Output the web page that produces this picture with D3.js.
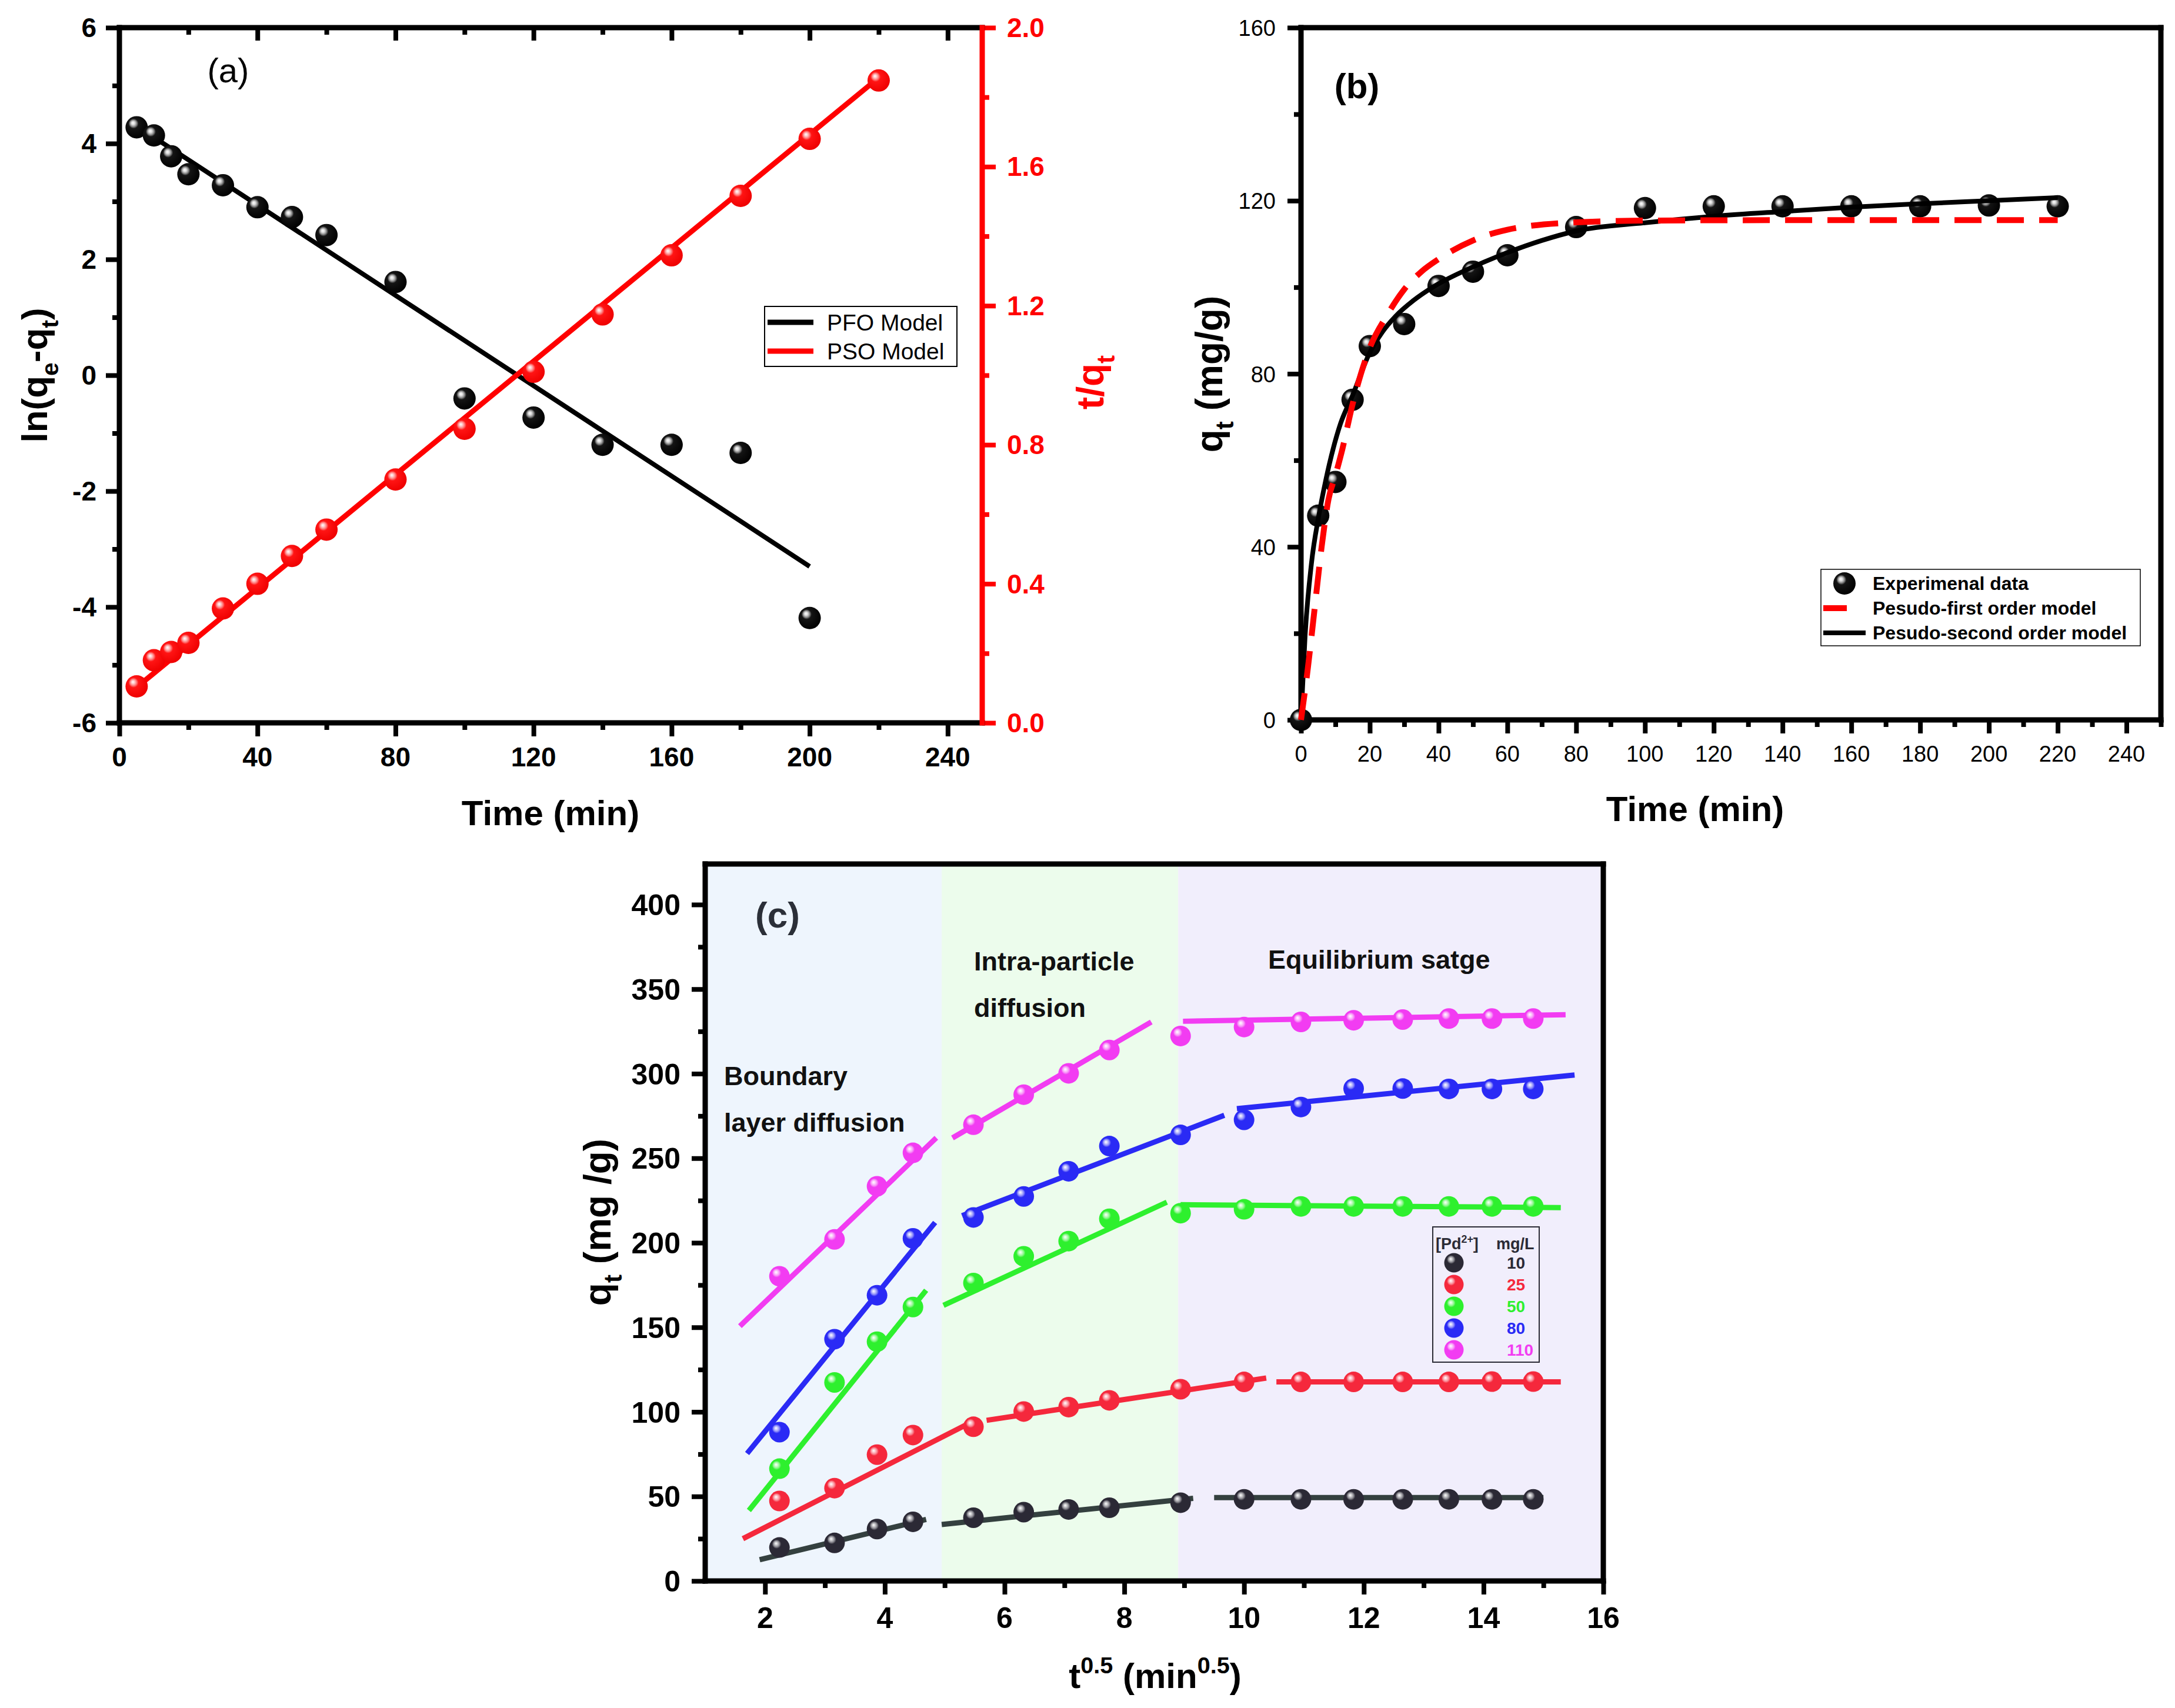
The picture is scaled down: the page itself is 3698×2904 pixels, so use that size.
<!DOCTYPE html>
<html>
<head>
<meta charset="utf-8">
<script src="https://cdn.jsdelivr.net/npm/d3@7"></script>
<style>
  html, body { margin: 0; padding: 0; background: #fff; }
  svg { display: block; font-family: "Liberation Sans", Arial, Helvetica, sans-serif; }
</style>
</head>
<body>
<svg id="svg" width="3698" height="2904"></svg>
<script>
// ---- panel (a): linearised kinetic plots ----
const timeA = [5, 10, 15, 20, 30, 40, 50, 60, 80, 100, 120, 140, 160, 180, 200];
const lnQeQt = [4.28, 4.14, 3.78, 3.47, 3.28, 2.9, 2.73, 2.42, 1.61, -0.4, -0.73, -1.2, -1.2, -1.34, -4.19];
const timeA2 = [5, 10, 15, 20, 30, 40, 50, 60, 80, 100, 120, 140, 160, 180, 200, 220];
const tOverQt = [0.105, 0.18, 0.204, 0.23, 0.329, 0.4, 0.48, 0.556, 0.7, 0.846, 1.01, 1.175, 1.345, 1.516, 1.68, 1.848];
const pfoFitA = [[12, 4.03], [200, -3.3]];
const psoFitA = [[4, 0.094], [220, 1.856]];
const legendA = ['PFO Model', 'PSO Model'];

// ---- panel (b): non-linear fits ----
const timeB = [0, 5, 10, 15, 20, 30, 40, 50, 60, 80, 100, 120, 140, 160, 180, 200, 220];
const qtB = [0, 47.2, 55, 74, 86.4, 91.5, 100.3, 103.6, 107.4, 113.9, 118.3, 118.7, 118.7, 118.7, 118.7, 118.9, 118.7];
const pfoTimeB = [0, 2, 4, 6, 8, 10, 12, 15, 20, 25, 30, 35, 40, 50, 60, 80, 100, 140, 220];
const pfoQtB = [0, 12, 26, 40, 51, 56.5, 62.5, 73, 86, 93.5, 99.5, 103.6, 106.5, 110.8, 113.3, 115, 115.4, 115.5, 115.5];
const psoTimeB = [0, 1.2, 3, 5.2, 7.2, 11.5, 15, 19.7, 23.6, 27.5, 32.8, 38.7, 50, 60, 70, 80, 100, 120, 140, 160, 180, 200, 220];
const psoQtB = [0, 19.6, 35.9, 47.3, 55.4, 68.5, 75, 84.4, 89.6, 93.3, 97, 100.2, 104.7, 108, 110.8, 113, 114.9, 116.4, 117.5, 118.5, 119.3, 120, 120.7];
const legendB = ['Experimenal data', 'Pesudo-first order model', 'Pesudo-second order model'];

// ---- panel (c): intra-particle diffusion ----
const sqrtTime = [2.24, 3.16, 3.87, 4.47, 5.48, 6.32, 7.07, 7.75, 8.94, 10, 10.95, 11.83, 12.65, 13.42, 14.14, 14.83];
const concLabels = ['10', '25', '50', '80', '110'];
const qc10 = [19.8, 22.5, 30.7, 35, 37.4, 40.7, 42.3, 43.3, 46.3, 48.3, 48.3, 48.3, 48.3, 48.3, 48.3, 48.3];
const qc25 = [47.3, 54.9, 74.7, 86.3, 91.2, 100.2, 102.8, 106.8, 113.4, 117.7, 117.7, 117.7, 117.7, 117.7, 117.9, 117.9];
const qc50 = [66.4, 117.4, 141.5, 162, 176.2, 192, 201, 214.2, 217.5, 219.8, 221.5, 221.5, 221.5, 221.5, 221.5, 221.5];
const qc80 = [88, 143, 169, 202.6, 215, 227.4, 242.3, 257.2, 263.8, 272.7, 280.3, 291.2, 291.2, 291, 291, 291];
const qc110 = [180.2, 202, 233.4, 253.2, 269.8, 287.6, 300.2, 314, 322.3, 327.6, 330.6, 331.6, 332, 332.6, 332.6, 332.6];
const fit10 = [[[1.91, 12.6], [4.69, 36.4]], [[4.95, 33.4], [9.15, 48.9]], [[9.5, 49.3], [15.0, 49.3]]];
const fit25 = [[[1.63, 25], [5.45, 94]], [[5.7, 95], [10.37, 120]], [[10.54, 117.7], [15.29, 117.7]]];
const fit50 = [[[1.73, 41.7], [4.69, 171.9]], [[4.98, 163], [8.71, 224]], [[8.94, 222.5], [15.29, 220.8]]];
const fit80 = [[[1.7, 75.4], [4.84, 212]], [[5.29, 216], [9.67, 275.4]], [[9.88, 279.3], [15.52, 299.2]]];
const fit110 = [[[1.58, 150.7], [4.86, 262.1]], [[5.13, 262], [8.45, 330.6]], [[8.98, 331], [15.37, 334.9]]];
const stageEdges = [1, 4.95, 8.9, 16];

const cSeries = [qc10, qc25, qc50, qc80, qc110];
const cFits = [fit10, fit25, fit50, fit80, fit110];
const cColors = ['#2b2935', '#f5283c', '#2ef02e', '#2a2af5', '#f23cf2'];
const cLineColors = ['#34403f', '#f5283c', '#2ef02e', '#2a2af5', '#f23cf2'];
const stageFill = ['#eef5fd', '#ecfcec', '#f1eefc'];

const svg = d3.select('#svg');
const defs = svg.append('defs');

function sphere(id, stops) {
  const g = defs.append('radialGradient').attr('id', id)
    .attr('cx', 0.42).attr('cy', 0.4).attr('r', 0.62).attr('fx', 0.33).attr('fy', 0.3);
  stops.forEach(s => g.append('stop').attr('offset', s[0]).attr('stop-color', s[1]));
}
sphere('ballBlack', [[0, '#ffffff'], [0.12, '#dcdcdc'], [0.24, '#8a8a8a'], [0.36, '#141414'], [1, '#000']]);
sphere('ballRed', [[0, '#ffffff'], [0.12, '#ffc8c8'], [0.24, '#ff7a7a'], [0.36, '#ff1414'], [1, '#ee0000']]);
cColors.forEach((c, i) => {
  const tint = d3.interpolateRgb(c, '#fff');
  sphere('ballC' + i, [[0, '#ffffff'], [0.12, tint(0.75)], [0.24, tint(0.45)], [0.36, c], [1, c]]);
});

const axisGen = { bottom: d3.axisBottom, top: d3.axisTop, left: d3.axisLeft, right: d3.axisRight };

function addTicks(pos, tx, ty, scale, values, len, color) {
  const ax = axisGen[pos](scale).tickValues(values).tickSize(len).tickSizeOuter(0).tickFormat('');
  const g = svg.append('g').attr('transform', `translate(${tx},${ty})`).call(ax);
  g.select('.domain').remove();
  g.selectAll('text').remove();
  g.selectAll('line').attr('stroke', color || '#000').attr('stroke-width', 8);
}

function addLabels(values, fmt, xf, yf, anchor, size, weight, color) {
  svg.append('g').selectAll('text').data(values).join('text')
    .attr('x', xf).attr('y', yf)
    .attr('text-anchor', anchor)
    .attr('font-size', size).attr('font-weight', weight)
    .attr('fill', color || '#000')
    .text(fmt);
}

function rich(t, parts, size) {
  let cur = 0;
  parts.forEach(p => {
    const target = p.sub ? size * 0.3 : p.sup ? -size * 0.42 : 0;
    t.append('tspan').attr('dy', target - cur)
      .attr('font-size', (p.sub || p.sup) ? size * 0.66 : size).text(p.t);
    cur = target;
  });
}

function title(x, y, parts, size, color, rotate) {
  const t = svg.append('text').attr('x', x).attr('y', y)
    .attr('text-anchor', 'middle').attr('font-weight', 'bold')
    .attr('font-size', size).attr('fill', color || '#000');
  if (rotate) t.attr('transform', `rotate(-90,${x},${y})`);
  rich(t, parts, size);
}

function frameLine(x1, y1, x2, y2, color) {
  svg.append('line').attr('x1', x1).attr('y1', y1).attr('x2', x2).attr('y2', y2)
    .attr('stroke', color || '#000').attr('stroke-width', 9).attr('stroke-linecap', 'square');
}

// ===================== panel (a) =====================
const aX = d3.scaleLinear().domain([0, 250]).range([203, 1670]);
const aY = d3.scaleLinear().domain([-6, 6]).range([1229, 47]);
const aY2 = d3.scaleLinear().domain([0, 2]).range([1229, 47]);

addTicks('bottom', 0, 1229, aX, d3.range(0, 241, 40), 23);
addTicks('bottom', 0, 1229, aX, d3.range(20, 230, 40), 12);
addTicks('bottom', 0, 47, aX, d3.range(40, 241, 40), 22);
addTicks('bottom', 0, 47, aX, d3.range(20, 230, 40), 12);
addTicks('left', 203, 0, aY, d3.range(-6, 7, 2), 23);
addTicks('left', 203, 0, aY, d3.range(-5, 6, 2), 12);
addTicks('right', 1670, 0, aY2, d3.range(0, 2.01, 0.4), 23, '#ff0000');
addTicks('right', 1670, 0, aY2, d3.range(0.2, 1.9, 0.4), 12, '#ff0000');
frameLine(203, 47, 1670, 47);
frameLine(203, 1229, 1670, 1229);
frameLine(203, 47, 203, 1229);
frameLine(1670, 47, 1670, 1229, '#ff0000');

addLabels(d3.range(0, 241, 40), d => d, d => aX(d), 1303, 'middle', 46, 'bold');
addLabels(d3.range(-6, 7, 2), d => d, 164, d => aY(d) + 16, 'end', 46, 'bold');
addLabels(d3.range(0, 2.01, 0.4), d => d3.format('.1f')(d), 1712, d => aY2(d) + 16, 'start', 46, 'bold', '#ff0000');

const lineA = d3.line().x(d => aX(d[0])).y(d => aY(d[1]));
const lineA2 = d3.line().x(d => aX(d[0])).y(d => aY2(d[1]));
svg.append('path').attr('d', lineA(pfoFitA)).attr('fill', 'none').attr('stroke', '#000').attr('stroke-width', 8);
svg.append('path').attr('d', lineA2(psoFitA)).attr('fill', 'none').attr('stroke', '#ff0000').attr('stroke-width', 9);

svg.append('g').selectAll('circle').data(timeA).join('circle')
  .attr('cx', d => aX(d)).attr('cy', (d, i) => aY(lnQeQt[i])).attr('r', 19)
  .attr('fill', 'url(#ballBlack)');
svg.append('g').selectAll('circle').data(timeA2).join('circle')
  .attr('cx', d => aX(d)).attr('cy', (d, i) => aY2(tOverQt[i])).attr('r', 19)
  .attr('fill', 'url(#ballRed)');

svg.append('text').attr('x', 388).attr('y', 140).attr('text-anchor', 'middle')
  .attr('font-size', 58).text('(a)');

// legend (a)
svg.append('rect').attr('x', 1300).attr('y', 521).attr('width', 327).attr('height', 102)
  .attr('fill', '#fff').attr('stroke', '#000').attr('stroke-width', 2);
legendA.forEach((name, i) => {
  const y = 548 + i * 49;
  svg.append('line').attr('x1', 1305).attr('x2', 1383).attr('y1', y).attr('y2', y)
    .attr('stroke', i === 0 ? '#000' : '#ff0000').attr('stroke-width', 9);
  svg.append('text').attr('x', 1406).attr('y', y + 14).attr('font-size', 39).text(name);
});

title(936, 1403, [{ t: 'Time (min)' }], 60);
title(80, 638, [{ t: 'ln(q' }, { t: 'e', sub: true }, { t: '-q' }, { t: 't', sub: true }, { t: ')' }], 62, '#000', true);
title(1876, 650, [{ t: 't/q' }, { t: 't', sub: true }], 64, '#ff0000', true);

// ===================== panel (b) =====================
const bX = d3.scaleLinear().domain([0, 250]).range([2212, 3674]);
const bY = d3.scaleLinear().domain([0, 160]).range([1224, 47]);

addTicks('bottom', 0, 1224, bX, d3.range(0, 241, 20), 23);
addTicks('bottom', 0, 1224, bX, d3.range(10, 251, 20), 12);
addTicks('left', 2212, 0, bY, d3.range(0, 161, 40), 23);
addTicks('left', 2212, 0, bY, d3.range(20, 150, 40), 12);
frameLine(2212, 47, 3674, 47);
frameLine(2212, 1224, 3674, 1224);
frameLine(2212, 47, 2212, 1224);
frameLine(3674, 47, 3674, 1224);

addLabels(d3.range(0, 241, 20), d => d, d => bX(d), 1295, 'middle', 38, 'normal');
addLabels(d3.range(0, 161, 40), d => d, 2169, d => bY(d) + 14, 'end', 38, 'normal');

svg.append('g').selectAll('circle').data(timeB).join('circle')
  .attr('cx', d => bX(d)).attr('cy', (d, i) => bY(qtB[i])).attr('r', 19)
  .attr('fill', 'url(#ballBlack)');

const lineB = d3.line().x(d => bX(d[0])).y(d => bY(d[1])).curve(d3.curveMonotoneX);
svg.append('path').attr('d', lineB(psoTimeB.map((t, i) => [t, psoQtB[i]])))
  .attr('fill', 'none').attr('stroke', '#000').attr('stroke-width', 8);
svg.append('path').attr('d', lineB(pfoTimeB.map((t, i) => [t, pfoQtB[i]])))
  .attr('fill', 'none').attr('stroke', '#ff0000').attr('stroke-width', 10)
  .attr('stroke-dasharray', '46,26');

svg.append('text').attr('x', 2307).attr('y', 167).attr('text-anchor', 'middle')
  .attr('font-size', 60).attr('font-weight', 'bold').text('(b)');

// legend (b)
svg.append('rect').attr('x', 3096).attr('y', 968).attr('width', 543).attr('height', 130)
  .attr('fill', '#fff').attr('stroke', '#000').attr('stroke-width', 1.5);
legendB.forEach((name, i) => {
  const y = 992 + i * 42;
  if (i === 0) {
    svg.append('circle').attr('cx', 3136).attr('cy', y).attr('r', 19).attr('fill', 'url(#ballBlack)');
  } else if (i === 1) {
    svg.append('line').attr('x1', 3100).attr('x2', 3140).attr('y1', y).attr('y2', y)
      .attr('stroke', '#ff0000').attr('stroke-width', 10);
  } else {
    svg.append('line').attr('x1', 3100).attr('x2', 3172).attr('y1', y).attr('y2', y)
      .attr('stroke', '#000').attr('stroke-width', 8);
  }
  svg.append('text').attr('x', 3184).attr('y', y + 11).attr('font-size', 32)
    .attr('font-weight', 'bold').text(name);
});

title(2882, 1396, [{ t: 'Time (min)' }], 60);
title(2078, 636, [{ t: 'q' }, { t: 't', sub: true }, { t: ' (mg/g)' }], 64, '#000', true);

// ===================== panel (c) =====================
const cX = d3.scaleLinear().domain([1, 16]).range([1199, 2726]);
const cY = d3.scaleLinear().domain([0, 424]).range([2688, 1469]);

svg.append('g').selectAll('rect').data(stageFill).join('rect')
  .attr('x', (d, i) => cX(stageEdges[i]))
  .attr('width', (d, i) => cX(stageEdges[i + 1]) - cX(stageEdges[i]))
  .attr('y', cY.range()[1]).attr('height', cY.range()[0] - cY.range()[1])
  .attr('fill', d => d);

addTicks('bottom', 0, 2688, cX, d3.range(2, 17, 2), 23);
addTicks('bottom', 0, 2688, cX, d3.range(3, 16, 2), 12);
addTicks('left', 1199, 0, cY, d3.range(0, 401, 50), 23);
addTicks('left', 1199, 0, cY, d3.range(25, 400, 50), 12);
frameLine(1199, 1469, 2726, 1469);
frameLine(1199, 2688, 2726, 2688);
frameLine(1199, 1469, 1199, 2688);
frameLine(2726, 1469, 2726, 2688);

addLabels(d3.range(2, 17, 2), d => d, d => cX(d), 2768, 'middle', 50, 'bold');
addLabels(d3.range(0, 401, 50), d => d, 1157, d => cY(d) + 18, 'end', 50, 'bold');

const lineC = d3.line().x(d => cX(d[0])).y(d => cY(d[1]));
cFits.forEach((segs, i) => {
  svg.append('g').selectAll('path').data(segs).join('path')
    .attr('d', lineC).attr('fill', 'none')
    .attr('stroke', cLineColors[i]).attr('stroke-width', 9);
});
cSeries.forEach((vals, i) => {
  svg.append('g').selectAll('circle').data(vals).join('circle')
    .attr('cx', (d, j) => cX(sqrtTime[j])).attr('cy', d => cY(d)).attr('r', 17.5)
    .attr('fill', `url(#ballC${i})`);
});

svg.append('text').attr('x', 1322).attr('y', 1577).attr('text-anchor', 'middle')
  .attr('font-size', 62).attr('font-weight', 'bold').attr('fill', '#2b2f38').text('(c)');

const stageText = [
  ['Boundary', 1231, 1845], ['layer diffusion', 1231, 1924],
  ['Intra-particle', 1656, 1650], ['diffusion', 1656, 1729],
  ['Equilibrium satge', 2156, 1647]
];
svg.append('g').selectAll('text').data(stageText).join('text')
  .attr('x', d => d[1]).attr('y', d => d[2])
  .attr('font-size', 45).attr('font-weight', 'bold').attr('fill', '#111')
  .text(d => d[0]);

// legend (c)
svg.append('rect').attr('x', 2436).attr('y', 2086).attr('width', 181).attr('height', 230)
  .attr('fill', 'none').attr('stroke', '#2b2b35').attr('stroke-width', 2);
const lh = svg.append('text').attr('x', 2441).attr('y', 2124).attr('font-size', 27)
  .attr('font-weight', 'bold').attr('fill', '#2b2b35');
rich(lh, [{ t: '[Pd' }, { t: '2+', sup: true }, { t: ']' }], 27);
svg.append('text').attr('x', 2544).attr('y', 2124).attr('font-size', 27)
  .attr('font-weight', 'bold').attr('fill', '#2b2b35').text('mg/L');
concLabels.forEach((lab, i) => {
  const y = 2147 + i * 37;
  svg.append('circle').attr('cx', 2472).attr('cy', y).attr('r', 16.5).attr('fill', `url(#ballC${i})`);
  svg.append('text').attr('x', 2562).attr('y', y + 10).attr('font-size', 28)
    .attr('font-weight', 'bold').attr('fill', cColors[i]).text(lab);
});

title(1964, 2870, [{ t: 't' }, { t: '0.5', sup: true }, { t: ' (min' }, { t: '0.5', sup: true }, { t: ')' }], 60);
title(1038, 2078, [{ t: 'q' }, { t: 't', sub: true }, { t: ' (mg /g)' }], 64, '#000', true);
</script>
</body>
</html>
